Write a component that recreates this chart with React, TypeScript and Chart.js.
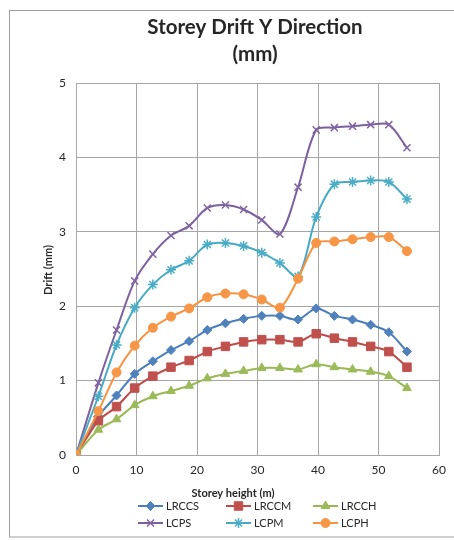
import React, { useEffect, useRef } from 'react';
import { Chart, registerables } from 'chart.js';
import { drawPoint } from 'chart.js/helpers';

Chart.register(...registerables);

// Storey heights (m) at which drift was recorded
const storeyHeight = [0, 3.7, 6.7, 9.7, 12.7, 15.7, 18.7, 21.7, 24.7, 27.7, 30.7, 33.7, 36.7, 39.7, 42.7, 45.7, 48.7, 51.7, 54.7];

// Storey drift in Y direction (mm) per model
const lrccs = [0, 0.52, 0.8, 1.09, 1.26, 1.41, 1.53, 1.68, 1.77, 1.83, 1.87, 1.87, 1.82, 1.97, 1.87, 1.82, 1.75, 1.65, 1.39];
const lrccm = [0, 0.46, 0.65, 0.9, 1.06, 1.18, 1.27, 1.39, 1.46, 1.52, 1.55, 1.55, 1.52, 1.63, 1.57, 1.52, 1.46, 1.39, 1.18];
const lrcch = [0, 0.34, 0.48, 0.67, 0.79, 0.86, 0.93, 1.03, 1.09, 1.13, 1.17, 1.17, 1.15, 1.22, 1.18, 1.15, 1.12, 1.06, 0.9];
const lcps = [0, 0.97, 1.68, 2.34, 2.7, 2.95, 3.08, 3.32, 3.36, 3.3, 3.16, 2.97, 3.6, 4.37, 4.4, 4.42, 4.44, 4.44, 4.13];
const lcpm = [0, 0.79, 1.48, 1.98, 2.29, 2.49, 2.61, 2.83, 2.85, 2.81, 2.72, 2.58, 2.4, 3.2, 3.64, 3.67, 3.69, 3.67, 3.44];
const lcph = [0, 0.59, 1.11, 1.47, 1.71, 1.86, 1.97, 2.12, 2.17, 2.16, 2.09, 1.98, 2.37, 2.85, 2.87, 2.9, 2.93, 2.93, 2.74];

const seriesNames = ['LRCCS', 'LRCCM', 'LRCCH', 'LCPS', 'LCPM', 'LCPH'];
const seriesValues = [lrccs, lrccm, lrcch, lcps, lcpm, lcph];

const titleLines = ['Storey Drift Y Direction', '(mm)'];
const xTitle = 'Storey height (m)';
const yTitle = 'Drift (mm)';

const styles = [
  { color: '#4A7EBB', marker: '#4F81BD', pointStyle: 'rectRot', radius: 4.5, borderWidth: 1 },
  { color: '#BE4B48', marker: '#C0504D', pointStyle: 'rect', radius: 6, borderWidth: 1 },
  { color: '#98B954', marker: '#9BBB59', pointStyle: 'triangle', radius: 5, borderWidth: 1 },
  { color: '#7D60A0', marker: '#8064A2', pointStyle: 'crossRot', radius: 5, borderWidth: 1.5 },
  { color: '#46AAC5', marker: '#4BACC6', pointStyle: 'star', radius: 5, borderWidth: 1.5 },
  { color: '#F69240', marker: '#F79646', pointStyle: 'circle', radius: 4.5, borderWidth: 1 },
];

const FONT = 'Lato, "Open Sans", sans-serif';
const GRID = '#a6a6a6';
const TEXT = '#262626';

const decorPlugin = {
  id: 'decor',
  beforeDraw(chart: any) {
    const { ctx, width, height } = chart;
    ctx.save();
    ctx.fillStyle = '#ffffff';
    ctx.fillRect(0, 0, width, height);
    ctx.strokeStyle = '#a0a0a0';
    ctx.lineWidth = 1;
    ctx.strokeRect(9.5, 10.5, width + 10, 526.5);
    ctx.restore();
  },
  afterDraw(chart: any) {
    const { ctx, chartArea } = chart;
    ctx.save();
    ctx.fillStyle = TEXT;
    ctx.textAlign = 'center';
    ctx.textBaseline = 'middle';

    // chart title
    ctx.font = `bold 20.5px ${FONT}`;
    titleLines.forEach((t, i) => ctx.fillText(t, 255, 27 + i * 27));

    // axis titles
    ctx.font = `bold 11px ${FONT}`;
    ctx.fillText(xTitle, 233, 493);
    ctx.save();
    ctx.translate(48, (chartArea.top + chartArea.bottom) / 2 + 1);
    ctx.rotate(-Math.PI / 2);
    ctx.fillText(yTitle, 0, 0);
    ctx.restore();

    // legend: three columns, two rows
    const colX = [138, 226, 313];
    const rowY = [506, 523];
    ctx.font = `11px ${FONT}`;
    ctx.textAlign = 'left';
    chart.data.datasets.forEach((ds: any, i: number) => {
      const x0 = colX[i % 3];
      const y = rowY[Math.floor(i / 3)];
      const st = styles[i];
      ctx.strokeStyle = ds.borderColor;
      ctx.lineWidth = 2;
      ctx.beginPath();
      ctx.moveTo(x0, y);
      ctx.lineTo(x0 + 25, y);
      ctx.stroke();
      ctx.fillStyle = st.marker;
      ctx.strokeStyle = st.marker;
      ctx.lineWidth = st.borderWidth;
      drawPoint(ctx, { pointStyle: st.pointStyle as any, radius: st.radius, rotation: 0, borderWidth: st.borderWidth }, x0 + 12.5, y);
      ctx.fillStyle = TEXT;
      ctx.fillText(ds.label, x0 + 28, y + 0.5);
    });
    ctx.restore();
  },
};

export default function App() {
  const canvasRef = useRef<HTMLCanvasElement | null>(null);

  useEffect(() => {
    const canvas = canvasRef.current;
    if (!canvas) return;

    const datasets = seriesNames.map((name, i) => ({
      label: name,
      data: storeyHeight.map((h, k) => ({ x: h, y: seriesValues[i][k] })),
      borderColor: styles[i].color,
      backgroundColor: styles[i].marker,
      borderWidth: 2,
      pointStyle: styles[i].pointStyle as any,
      pointRadius: styles[i].radius,
      pointBackgroundColor: styles[i].marker,
      pointBorderColor: styles[i].marker,
      pointBorderWidth: styles[i].borderWidth,
      tension: 0.3,
      fill: false,
      order: seriesNames.length - i,
    }));

    const tickFont = { family: FONT, size: 12 };

    const chart = new Chart(canvas, {
      type: 'line',
      data: { datasets },
      options: {
        responsive: false,
        devicePixelRatio: 1,
        animation: false,
        parsing: false as any,
        layout: { padding: { top: 83, right: 11, left: 0, bottom: 0 } },
        plugins: {
          legend: { display: false },
          title: { display: false },
          tooltip: { enabled: false },
        },
        scales: {
          x: {
            type: 'linear',
            min: 0,
            max: 60,
            ticks: { stepSize: 10, padding: 8, color: TEXT, font: tickFont },
            grid: { color: GRID, drawTicks: false, lineWidth: 1 },
            border: { color: GRID },
            afterFit: (s: any) => { s.height = 85; },
          },
          y: {
            type: 'linear',
            min: 0,
            max: 5,
            ticks: { stepSize: 1, padding: 10, color: TEXT, font: tickFont },
            grid: { color: GRID, drawTicks: false, lineWidth: 1 },
            border: { color: GRID },
            afterFit: (s: any) => { s.width = 76; },
          },
        },
      },
      plugins: [decorPlugin],
    });

    return () => chart.destroy();
  }, []);

  return (
    <div style={{ position: 'absolute', left: 0, top: 0, width: 454, height: 540 }}>
      <canvas ref={canvasRef} width={454} height={540} style={{ display: 'block' }} />
    </div>
  );
}
